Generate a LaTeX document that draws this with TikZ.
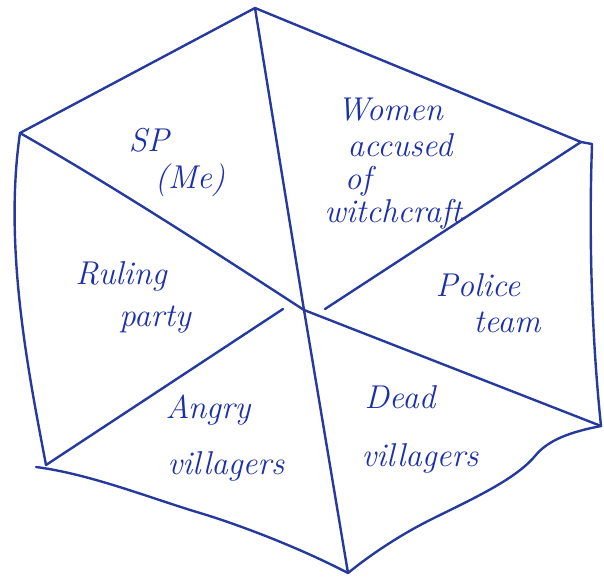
\documentclass[tikz,border=0pt]{standalone}
\definecolor{ink}{RGB}{38,58,158}
\definecolor{textink}{RGB}{28,48,170}
\tikzset{
  edge/.style={draw=ink, line width=2.4pt, line cap=round, line join=round},
  word/.style={text=textink, font=\fontsize{33}{40}\selectfont\itshape, inner sep=0pt, anchor=center},
}
\begin{document}
\begin{tikzpicture}[x=1pt,y=-1pt]
\useasboundingbox (0,0) rectangle (604,577);
% vertices
\coordinate (T)  at (255,8);
\coordinate (UR) at (581,142);
\coordinate (R)  at (601,426);
\coordinate (B)  at (348,573);
\coordinate (LL) at (46,465);
\coordinate (L)  at (20,133);
\coordinate (C)  at (304,310);
\coordinate (ULs) at (325,309);
\coordinate (LLs) at (283,309);
\coordinate (URr) at (592,144);
\coordinate (LLe) at (36,467);
% outer hexagon
\draw[edge] (L) -- (T) -- (UR) -- (URr) .. controls (589,230) and (591,330) .. (R);
\draw[edge] (R) .. controls (570,432) and (548,440) .. (535,456)
  .. controls (515,480) and (470,500) .. (430,520)
  .. controls (400,535) and (370,555) .. (B);
\draw[edge] (B) .. controls (300,548) and (240,525) .. (200,513)
  .. controls (150,498) and (90,474) .. (LLe);
\draw[edge] (LL) .. controls (30,380) and (3,250) .. (L);
% spokes
\draw[edge] (C) -- (T);
\draw[edge] (ULs) -- (UR);
\draw[edge] (C) -- (R);
\draw[edge] (C) -- (B);
\draw[edge] (LLs) -- (LL);
\draw[edge] (L) .. controls (120,190) and (230,262) .. (C);
% labels
\node[word] (sp) at (149,140) {SP};
\node[word] (me) at (190,180) {(Me)};
\node[word] (w1) at (390,110) {Women};
\node[word] (w2) at (400,145) {accused};
\node[word] (w3) at (358,181) {of};
\node[word] (w4) at (393,214) {witchcraft};
\node[word] (p1) at (478,285) {Police};
\node[word] (p2) at (507,322) {team};
\node[word] (r1) at (121,276) {Ruling};
\node[word] (r2) at (155,320) {party};
\node[word] (a1) at (208,410) {Angry};
\node[word] (a2) at (226,466) {villagers};
\node[word] (d1) at (400,397) {Dead};
\node[word] (d2) at (420,458) {villagers};
\end{tikzpicture}
\end{document}
